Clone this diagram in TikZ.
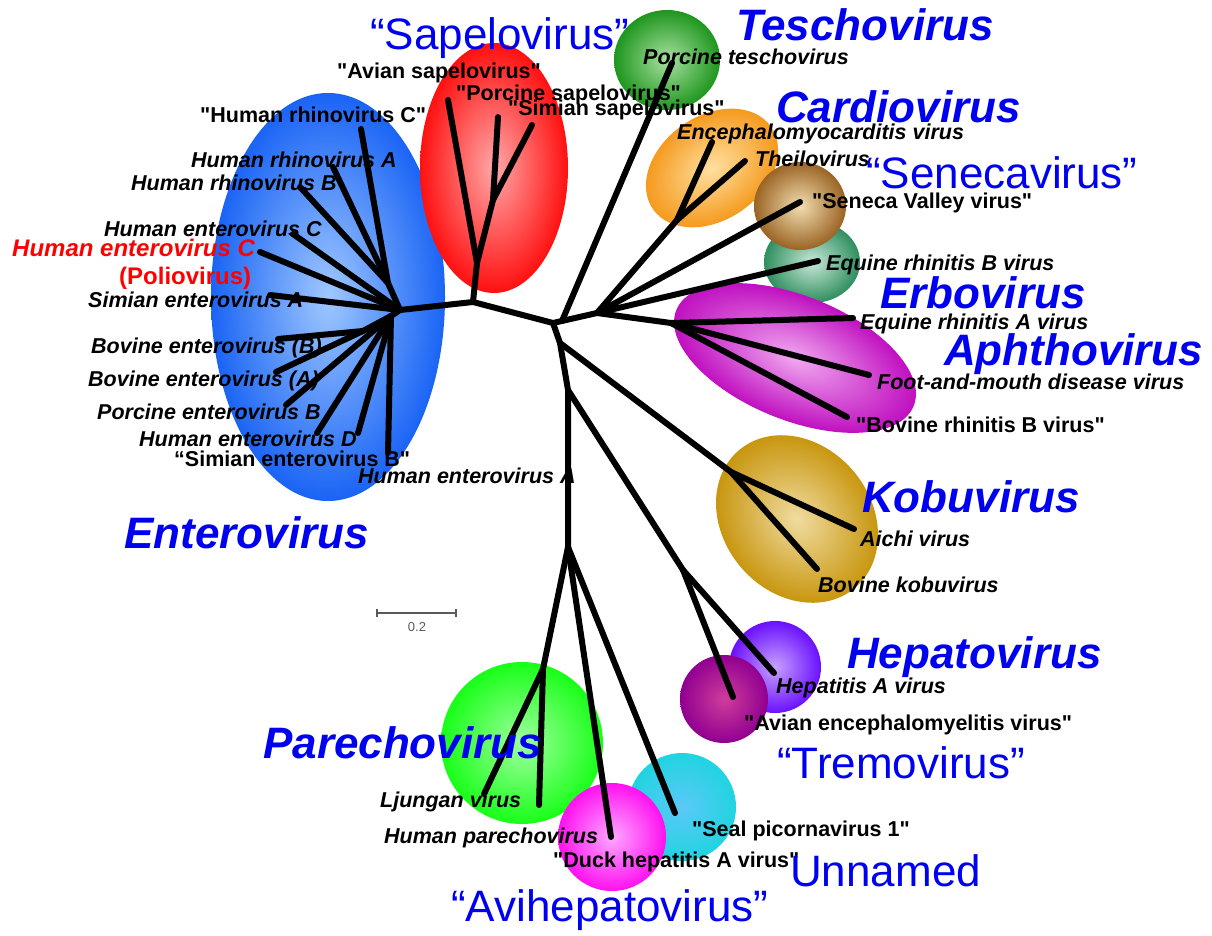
\documentclass[tikz,border=0pt]{standalone}
\usepackage{fontspec}
\setmainfont{Liberation Sans}[Ligatures=TeXOff]
\definecolor{gen}{RGB}{0,0,240}
\definecolor{polred}{RGB}{255,0,0}
\definecolor{sbar}{RGB}{90,90,90}
\definecolor{entI}{RGB}{160,200,255}\definecolor{entO}{RGB}{26,100,245}
\definecolor{sapI}{RGB}{255,168,168}\definecolor{sapO}{RGB}{255,16,16}
\definecolor{tesI}{RGB}{168,224,160}\definecolor{tesO}{RGB}{30,150,30}
\definecolor{carI}{RGB}{255,224,160}\definecolor{carO}{RGB}{245,154,30}
\definecolor{erbI}{RGB}{200,232,216}\definecolor{erbO}{RGB}{46,142,94}
\definecolor{senI}{RGB}{242,221,176}\definecolor{senO}{RGB}{154,100,36}
\definecolor{aphI}{RGB}{240,168,240}\definecolor{aphO}{RGB}{192,16,192}
\definecolor{kobI}{RGB}{240,220,160}\definecolor{kobO}{RGB}{200,150,15}
\definecolor{hepI}{RGB}{200,160,255}\definecolor{hepO}{RGB}{106,16,255}
\definecolor{treI}{RGB}{208,60,156}\definecolor{treO}{RGB}{144,0,144}
\definecolor{parI}{RGB}{160,255,160}\definecolor{parO}{RGB}{24,255,24}
\definecolor{unnI}{RGB}{92,200,248}\definecolor{unnO}{RGB}{32,212,224}
\definecolor{aviI}{RGB}{255,168,255}\definecolor{aviO}{RGB}{255,16,240}
\begin{document}
\begin{tikzpicture}[x=1pt,y=-1pt,
  br/.style={line width=6pt,line cap=round,line join=round},
  sp/.style={anchor=west,inner sep=0pt,font=\fontsize{21.5}{23}\selectfont\bfseries\itshape},
  sq/.style={anchor=west,inner sep=0pt,font=\fontsize{21.5}{23}\selectfont\bfseries},
  gb/.style={anchor=west,inner sep=0pt,text=gen,font=\fontsize{44}{46}\selectfont\bfseries\itshape},
  gr/.style={anchor=west,inner sep=0pt,text=gen,font=\fontsize{44}{46}\selectfont},
  blob/.style={inner color=#1I,outer color=#1O}
]
\useasboundingbox (0,0) rectangle (1212,936);

% ---------- blobs ----------
\shade[blob=ent] (328,297) ellipse[x radius=117pt,y radius=204pt];
\shade[blob=sap] (494,168) ellipse[x radius=74pt,y radius=125pt];
\shade[blob=tes] (667,60) ellipse[x radius=53pt,y radius=50pt];
\shade[transform canvas={shift={(712,168)},rotate=35},blob=car] (0,0) ellipse[x radius=72pt,y radius=52pt];
\shade[blob=erb] (812,262) ellipse[x radius=48pt,y radius=41pt];
\shade[blob=sen] (800,206) ellipse[x radius=46pt,y radius=44pt];
\shade[transform canvas={shift={(795,358)},rotate=-22},blob=aph] (0,0) ellipse[x radius=128pt,y radius=62pt];
\shade[transform canvas={shift={(797,519)},rotate=-50},blob=kob] (0,0) ellipse[x radius=90pt,y radius=74pt];
\shade[blob=hep] (775,667) ellipse[x radius=46pt,y radius=46pt];
\shade[blob=tre] (724,699) ellipse[x radius=44pt,y radius=44pt];
\shade[blob=par] (522,743) ellipse[x radius=81pt,y radius=81pt];
\shade[blob=unn] (682,807) ellipse[x radius=54pt,y radius=54pt];
\shade[blob=avi] (612,837) ellipse[x radius=54pt,y radius=54pt];

% ---------- tree coordinates ----------
\coordinate (eh) at (400,310);
\coordinate (er) at (388,283);
\coordinate (el) at (391,316);
\coordinate (eb) at (363,331);
\coordinate (sp0) at (473,302);
\coordinate (sp1) at (477,263);
\coordinate (sp2) at (493,200);
\coordinate (c0) at (553,323);
\coordinate (ct) at (562,321);
\coordinate (c1) at (597,313);
\coordinate (cc) at (677,220);
\coordinate (ca) at (671,323);
\coordinate (k0) at (560,343);
\coordinate (v1) at (568,390);
\coordinate (p0) at (568,547);
\coordinate (ko) at (731,472);
\coordinate (hn) at (683,570);
\coordinate (pn) at (543,669);
% leaves
\coordinate (hrvc) at (361,129);
\coordinate (hrva) at (333,167);
\coordinate (hrvb) at (300,187);
\coordinate (hevc) at (293,234);
\coordinate (polio) at (260,252);
\coordinate (seva) at (270,295);
\coordinate (bevb) at (278,339);
\coordinate (beva) at (276,372);
\coordinate (pevb) at (286,405);
\coordinate (hevd) at (317,433);
\coordinate (sevb) at (358,433);
\coordinate (heva) at (388,453);
\coordinate (avs) at (448,100);
\coordinate (pos) at (498,117);
\coordinate (sis) at (532,125);
\coordinate (tes) at (672,63);
\coordinate (emc) at (712,142);
\coordinate (the) at (745,161);
\coordinate (sen) at (800,202);
\coordinate (erb) at (818,261);
\coordinate (erav) at (853,318);
\coordinate (fmdv) at (869,375);
\coordinate (brbv) at (847,417);
\coordinate (aichi) at (854,529);
\coordinate (bkv) at (817,569);
\coordinate (hav) at (774,673);
\coordinate (aev) at (733,697);
\coordinate (ljv) at (484,794);
\coordinate (hpev) at (539,805);
\coordinate (dhav) at (611,837);
\coordinate (seal) at (675,813);

% ---------- branches ----------
\draw[br] (eh) -- (sp0) -- (c0) -- (c1);
\draw[br] (eh) -- (er);
\draw[br] (er) -- (hrvc);
\draw[br] (er) -- (hrva);
\draw[br] (er) -- (hrvb);
\draw[br] (eh) -- (hevc);
\draw[br] (eh) -- (polio);
\draw[br] (eh) -- (seva);
\draw[br] (eh) -- (el);
\draw[br] (el) -- (eb);
\draw[br] (eb) -- (bevb);
\draw[br] (eb) -- (beva);
\draw[br] (el) -- (pevb);
\draw[br] (el) -- (hevd);
\draw[br] (el) -- (sevb);
\draw[br] (el) -- (heva);
\draw[br] (sp0) -- (sp1) -- (avs);
\draw[br] (sp1) -- (sp2) -- (pos);
\draw[br] (sp2) -- (sis);
\draw[br] (ct) -- (tes);
\draw[br] (c1) -- (cc);
\draw[br] (cc) -- (emc);
\draw[br] (cc) -- (the);
\draw[br] (c1) -- (sen);
\draw[br] (c1) -- (erb);
\draw[br] (c1) -- (ca);
\draw[br] (ca) -- (erav);
\draw[br] (ca) -- (fmdv);
\draw[br] (ca) -- (brbv);
\draw[br] (c0) -- (k0) -- (v1) -- (p0);
\draw[br] (k0) -- (ko);
\draw[br] (ko) -- (aichi);
\draw[br] (ko) -- (bkv);
\draw[br] (v1) -- (hn);
\draw[br] (hn) -- (hav);
\draw[br] (hn) -- (aev);
\draw[br] (p0) -- (pn);
\draw[br] (pn) -- (ljv);
\draw[br] (pn) -- (hpev);
\draw[br] (p0) -- (dhav);
\draw[br] (p0) -- (seal);

% ---------- scale bar ----------
\coordinate (sb1) at (377,613);
\coordinate (sb2) at (456,613);
\draw[sbar,line width=1.4pt] (sb1) -- (sb2);
\draw[sbar,line width=1.4pt] ([yshift=4pt]sb1) -- ([yshift=-4pt]sb1);
\draw[sbar,line width=1.4pt] ([yshift=4pt]sb2) -- ([yshift=-4pt]sb2);
\node[text=sbar,font=\fontsize{13}{14}\selectfont,inner sep=0pt] (sbl) at (417,627) {0.2};

% ---------- species labels ----------
\node[sq] (l1) at (337,73) {"Avian sapelovirus"};
\node[sq] (l2) at (456,95) {"Porcine sapelovirus"};
\node[sq] (l3) at (508,110) {"Simian sapelovirus"};
\node[sq] (l4) at (200,115) {"Human rhinovirus C"};
\node[sp] (l5) at (191,160) {Human rhinovirus A};
\node[sp] (l6) at (131,183) {Human rhinovirus B};
\node[sp] (l7) at (104,229) {Human enterovirus C};
\node[sp,text=polred,font=\fontsize{24}{26}\selectfont\bfseries\itshape] (l8) at (12,248) {Human enterovirus C};
\node[sq,text=polred,font=\fontsize{24}{26}\selectfont\bfseries] (l9) at (119,278) {(Poliovirus)};
\node[sp] (l10) at (88,300) {Simian enterovirus A};
\node[sp] (l11) at (91,348) {Bovine enterovirus (B)};
\node[sp] (l12) at (88,381) {Bovine enterovirus (A)};
\node[sp] (l13) at (97,412) {Porcine enterovirus B};
\node[sp] (l14) at (139,439) {Human enterovirus D};
\node[sq] (l15) at (174,459) {“Simian enterovirus B"};
\node[sp] (l16) at (358,476) {Human enterovirus A};
\node[sp] (l17) at (643,57) {Porcine teschovirus};
\node[sp] (l18) at (677,134) {Encephalomyocarditis virus};
\node[sp] (l19) at (755,159) {Theilovirus};
\node[sq] (l20) at (812,203) {"Seneca Valley virus"};
\node[sp] (l21) at (826,265) {Equine rhinitis B virus};
\node[sp] (l22) at (860,324) {Equine rhinitis A virus};
\node[sp] (l23) at (877,382) {Foot-and-mouth disease virus};
\node[sq] (l24) at (856,425) {"Bovine rhinitis B virus"};
\node[sp] (l25) at (860,539) {Aichi virus};
\node[sp] (l26) at (818,585) {Bovine kobuvirus};
\node[sp] (l27) at (776,688) {Hepatitis A virus};
\node[sq] (l28) at (744,725) {"Avian encephalomyelitis virus"};
\node[sq] (l29) at (692,831) {"Seal picornavirus 1"};
\node[sp] (l30) at (380,802) {Ljungan virus};
\node[sp] (l31) at (384,838) {Human parechovirus};
\node[sq] (l32) at (553,862) {"Duck hepatitis A virus"};

% ---------- genus labels ----------
\node[gr] (g1) at (370,38) {“Sapelovirus”};
\node[gb] (g2) at (736,25) {Teschovirus};
\node[gb] (g3) at (776,107) {Cardiovirus};
\node[gr] (g4) at (866,173) {“Senecavirus”};
\node[gb] (g5) at (880,293) {Erbovirus};
\node[gb] (g6) at (944,354) {Aphthovirus};
\node[gb] (g7) at (862,497) {Kobuvirus};
\node[gb] (g8) at (124,533) {Enterovirus};
\node[gb] (g9) at (847,657) {Hepatovirus};
\node[gr] (g10) at (777,763) {“Tremovirus”};
\node[gb] (g11) at (263,743) {Parechovirus};
\node[gr] (g12) at (790,871) {Unnamed};
\node[gr] (g13) at (451,910) {“Avihepatovirus”};
\end{tikzpicture}
\end{document}
